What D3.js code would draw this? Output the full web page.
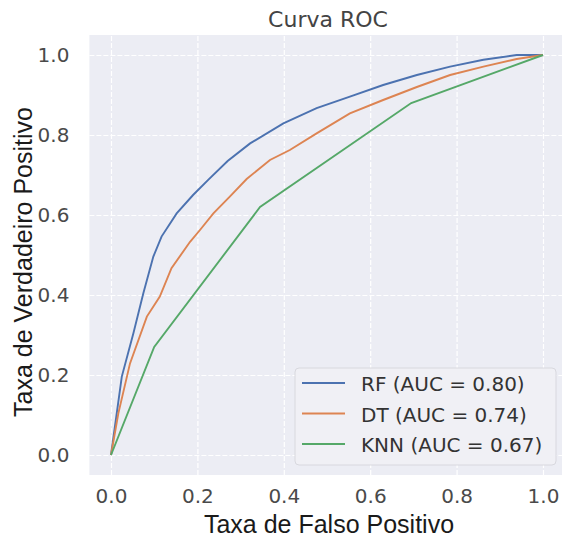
<!DOCTYPE html>
<html>
<head>
<meta charset="utf-8">
<script src="https://cdn.jsdelivr.net/npm/d3@7"></script>
<style>
    body { margin: 0; background: #ffffff; }
    .tick text { font-family: "DejaVu Sans", sans-serif; }
</style>
</head>
<body>
<script>
// valores
const rfFpr = [0, 0.025, 0.052, 0.075, 0.098, 0.117, 0.152, 0.19, 0.225, 0.27, 0.322, 0.399, 0.476, 0.553, 0.63, 0.708, 0.785, 0.862, 0.939, 1];
const rfTpr = [0, 0.196, 0.305, 0.405, 0.496, 0.546, 0.604, 0.65, 0.688, 0.735, 0.779, 0.829, 0.867, 0.896, 0.925, 0.95, 0.971, 0.988, 1.0, 1];
const dtFpr = [0, 0.017, 0.044, 0.083, 0.113, 0.14, 0.183, 0.206, 0.237, 0.275, 0.314, 0.368, 0.414, 0.476, 0.553, 0.63, 0.708, 0.785, 0.862, 0.939, 1];
const dtTpr = [0, 0.104, 0.229, 0.346, 0.396, 0.467, 0.533, 0.5625, 0.604, 0.646, 0.69, 0.7375, 0.7625, 0.804, 0.854, 0.8875, 0.92, 0.95, 0.971, 0.99, 1];
const knnFpr = [0, 0.1, 0.345, 0.695, 1];
const knnTpr = [0, 0.27, 0.62, 0.88, 1];
const seriesNames = ["RF (AUC = 0.80)", "DT (AUC = 0.74)", "KNN (AUC = 0.67)"];
const seriesColors = ["#4C72B0", "#DD8452", "#55A868"];
const tickValues = [0, 0.2, 0.4, 0.6, 0.8, 1.0];

const width = 562, height = 539;
const plotLeft = 89.4, plotRight = 564.6, plotTop = 35, plotBottom = 475;

const svg = d3.select("body").append("svg").attr("width", width).attr("height", height);

const x = d3.scaleLinear().domain([-0.05, 1.05]).range([plotLeft, plotRight]);
const y = d3.scaleLinear().domain([-0.05, 1.05]).range([plotBottom, plotTop]);

//fundo cinza estilo seaborn
svg.append("rect").attr("x", plotLeft).attr("y", plotTop).attr("width", plotRight - plotLeft).attr("height", plotBottom - plotTop).attr("fill", "#ECEDF4");

//grade
svg.append("g").attr("transform", "translate(0," + plotBottom + ")")
    .call(d3.axisBottom(x).tickValues(tickValues).tickSize(-(plotBottom - plotTop)).tickFormat(d3.format(".1f")).tickPadding(14))
    .call(g => g.select(".domain").remove())
    .call(g => g.selectAll("line").attr("stroke", "#fff").attr("stroke-width", 1.2).attr("stroke-dasharray", "5,2"))
    .call(g => g.selectAll("text").attr("fill", "#4a4a4a").attr("font-size", 20));

svg.append("g").attr("transform", "translate(" + plotLeft + ",0)")
    .call(d3.axisLeft(y).tickValues(tickValues).tickSize(-(plotRight - plotLeft)).tickFormat(d3.format(".1f")).tickPadding(20))
    .call(g => g.select(".domain").remove())
    .call(g => g.selectAll("line").attr("stroke", "#fff").attr("stroke-width", 1.2).attr("stroke-dasharray", "5,2"))
    .call(g => g.selectAll("text").attr("fill", "#4a4a4a").attr("font-size", 20));

//curvas
const series = [[rfFpr, rfTpr], [dtFpr, dtTpr], [knnFpr, knnTpr]];
const line = d3.line().x(d => x(d[0])).y(d => y(d[1]));

series.forEach(function (s, i) {
    svg.append("path")
        .datum(d3.zip(s[0], s[1]))
        .attr("d", line)
        .attr("fill", "none")
        .attr("stroke", seriesColors[i])
        .attr("stroke-width", 1.9);
});

//titulo e eixos
svg.append("text").attr("x", 328).attr("y", 27).attr("text-anchor", "middle")
    .attr("font-family", "DejaVu Sans").attr("font-size", 22).attr("fill", "#444").text("Curva ROC");
svg.append("text").attr("x", 329).attr("y", 533).attr("text-anchor", "middle")
    .attr("font-family", "Liberation Sans").attr("font-size", 25).attr("fill", "#1a1a1a").text("Taxa de Falso Positivo");
svg.append("text").attr("transform", "translate(32,262) rotate(-90)").attr("text-anchor", "middle")
    .attr("font-family", "Liberation Sans").attr("font-size", 25).attr("fill", "#1a1a1a").text("Taxa de Verdadeiro Positivo");

//legenda
const legend = svg.append("g").attr("transform", "translate(295,368)");
legend.append("rect").attr("width", 261).attr("height", 97).attr("rx", 4)
    .attr("fill", "#F0F0F5").attr("stroke", "#d8d8de").attr("stroke-width", 1);

seriesNames.forEach(function (name, i) {
    var row = legend.append("g").attr("transform", "translate(0," + (15 + i * 30.5) + ")");
    row.append("line").attr("x1", 7).attr("x2", 50).attr("stroke", seriesColors[i]).attr("stroke-width", 1.9);
    row.append("text").attr("x", 66).attr("y", 8).attr("font-family", "DejaVu Sans").attr("font-size", 20)
        .attr("fill", "#333").text(name);
});
</script>
</body>
</html>
